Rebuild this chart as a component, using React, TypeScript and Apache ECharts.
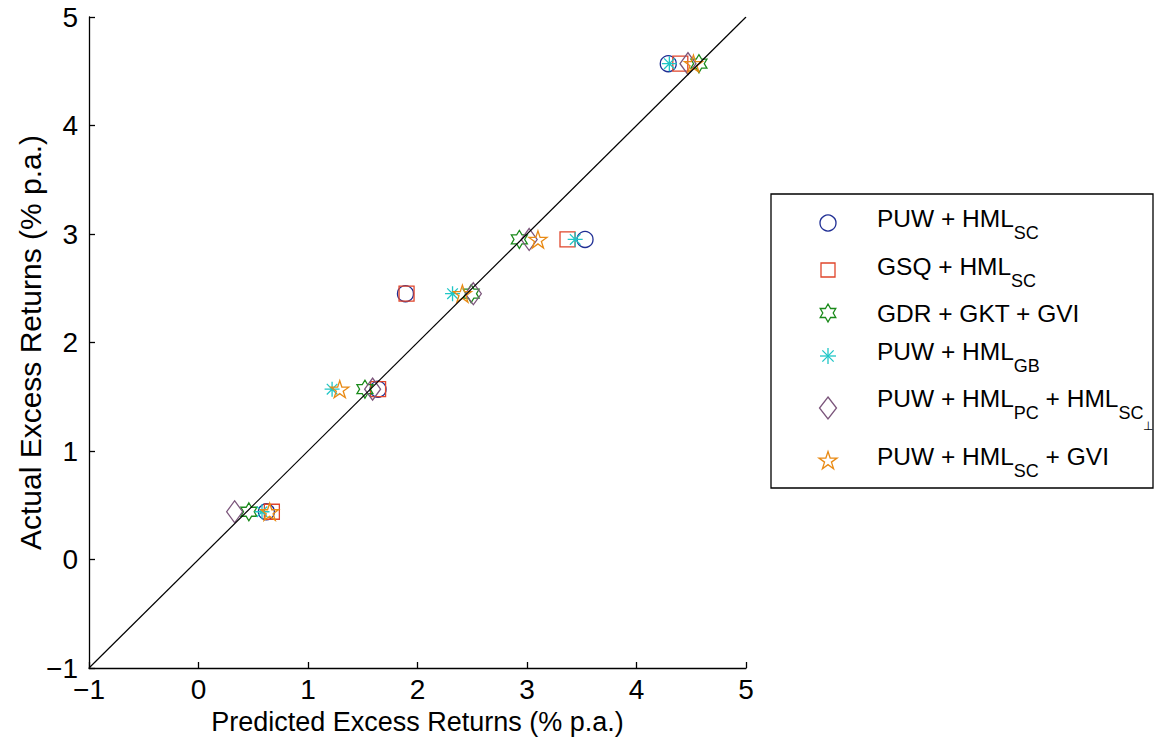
import React, { useEffect, useRef } from 'react';
import * as echarts from 'echarts';

// ---------- data ----------
const actualReturns = [0.44, 1.57, 2.45, 2.95, 4.57];
const predPUW_SC = [0.62, 1.64, 1.89, 3.53, 4.29];
const predGSQ_SC = [0.67, 1.64, 1.9, 3.37, 4.4];
const predGDR_GKT_GVI = [0.46, 1.52, 2.49, 2.93, 4.57];
const predPUW_GB = [0.58, 1.22, 2.32, 3.44, 4.3];
const predPUW_PC_SC = [0.33, 1.59, 2.51, 3.02, 4.47];
const predPUW_SC_GVI = [0.65, 1.29, 2.41, 3.1, 4.52];
const diagonalX = [-1, 5];
const seriesNames = [
  'PUW + HML_SC',
  'GSQ + HML_SC',
  'GDR + GKT + GVI',
  'PUW + HML_GB',
  'PUW + HML_PC + HML_SC⊥',
  'PUW + HML_SC + GVI',
];
// legend label pieces: [text, level] (0 normal, 1 subscript, 2 sub-subscript)
const legendLabels: [string, number][][] = [
  [['PUW + HML', 0], ['SC', 1]],
  [['GSQ + HML', 0], ['SC', 1]],
  [['GDR + GKT + GVI', 0]],
  [['PUW + HML', 0], ['GB', 1]],
  [['PUW + HML', 0], ['PC', 1], [' + HML', 0], ['SC', 1], ['⊥', 2]],
  [['PUW + HML', 0], ['SC', 1], [' + GVI', 0]],
];

const FONT = '"Liberation Sans", Arial, Helvetica, sans-serif';
const colors = ['#1f2e94', '#e0452b', '#1a8a1a', '#20c6c6', '#7b557b', '#e98a14'];

function starPts(n: number, R: number, r: number, cx = 0, cy = 0) {
  const pts: number[][] = [];
  for (let i = 0; i < 2 * n; i++) {
    const a = -Math.PI / 2 + (i * Math.PI) / n;
    const rad = i % 2 === 0 ? R : r;
    pts.push([cx + rad * Math.cos(a), cy + rad * Math.sin(a)]);
  }
  return pts;
}
function ptsPath(pts: number[][]) {
  return 'path://M' + pts.map((p) => p[0].toFixed(4) + ' ' + p[1].toFixed(4)).join(' L') + ' Z';
}
const pentaPath = ptsPath(starPts(5, 1, 0.382));
const hexaPath = ptsPath(starPts(6, 1, 0.5774));
const asteriskPath =
  'path://M0 -1 L0 1 M-1 0 L1 0 M-0.7071 -0.7071 L0.7071 0.7071 M-0.7071 0.7071 L0.7071 -0.7071';

export default function App() {
  const ref = useRef<HTMLDivElement>(null);
  useEffect(() => {
    document.body.style.margin = '0';
    const chart = echarts.init(ref.current!, null, { renderer: 'svg' });

    const preds = [predPUW_SC, predGSQ_SC, predGDR_GKT_GVI, predPUW_GB, predPUW_PC_SC, predPUW_SC_GVI];
    const symbols: any[] = ['circle', 'rect', hexaPath, asteriskPath, 'diamond', pentaPath];
    const sizes: any[] = [16, 15, [16, 18], [15, 15], [16, 22], [18, 17]];

    const scatterSeries = preds.map((p, k) => ({
      type: 'scatter',
      name: seriesNames[k],
      data: p.map((x, i) => [x, actualReturns[i]]),
      symbol: symbols[k],
      symbolSize: sizes[k],
      itemStyle: { color: 'rgba(0,0,0,0)', borderColor: colors[k], borderWidth: 1.3, opacity: 1 },
      z: 2,
    }));

    // ---------- legend (graphic) ----------
    const ctx = document.createElement('canvas').getContext('2d')!;
    const sizesByLevel = [24.5, 18, 12];
    const offsetByLevel = [0, 14, 27];
    const measure = (t: string, s: number) => {
      ctx.font = `${s}px ${FONT}`;
      return ctx.measureText(t).width;
    };
    const rowTextY = [218.5, 266.5, 313.5, 351.5, 398.5, 456.5];
    const rowMarkY = [223, 270, 313, 356, 408, 460];
    const markX = 828;
    const textX = 877;
    const g: any[] = [
      {
        type: 'rect',
        shape: { x: 771, y: 194, width: 382, height: 294 },
        style: { fill: '#fff', stroke: '#000', lineWidth: 1.3 },
        z: 10,
      },
    ];
    legendLabels.forEach((segs, r) => {
      let cx = textX;
      segs.forEach(([t, lvl]) => {
        const fs = sizesByLevel[lvl];
        g.push({
          type: 'text',
          x: cx,
          y: rowTextY[r] + offsetByLevel[lvl],
          style: { text: t, fontSize: fs, fontFamily: FONT, fill: '#000', align: 'left', verticalAlign: 'middle' },
          z: 11,
        });
        cx += measure(t, fs);
      });
      const my = rowMarkY[r];
      const st = { fill: 'none', stroke: colors[r], lineWidth: 1.3 };
      if (r === 0) g.push({ type: 'circle', shape: { cx: markX, cy: my, r: 8 }, style: st, z: 11 });
      if (r === 1) g.push({ type: 'rect', shape: { x: markX - 7, y: my - 7, width: 14, height: 14 }, style: st, z: 11 });
      if (r === 2) g.push({ type: 'polygon', shape: { points: starPts(6, 9, 9 * 0.5774, markX, my) }, style: st, z: 11 });
      if (r === 3) {
        const R = 8;
        const d = R * 0.7071;
        [
          [0, -R, 0, R],
          [-R, 0, R, 0],
          [-d, -d, d, d],
          [-d, d, d, -d],
        ].forEach((l) =>
          g.push({
            type: 'line',
            shape: { x1: markX + l[0], y1: my + l[1], x2: markX + l[2], y2: my + l[3] },
            style: { stroke: colors[r], lineWidth: 1.3 },
            z: 11,
          })
        );
      }
      if (r === 4)
        g.push({
          type: 'polygon',
          shape: { points: [[markX, my - 11], [markX + 8.5, my], [markX, my + 11], [markX - 8.5, my]] },
          style: st,
          z: 11,
        });
      if (r === 5)
        g.push({ type: 'polygon', shape: { points: starPts(5, 9.5, 9.5 * 0.382, markX, my + 1) }, style: st, z: 11 });
    });

    const axisCommon = {
      type: 'value',
      min: -1,
      max: 5,
      interval: 1,
      axisLine: { onZero: false, lineStyle: { color: '#000', width: 1.3 } },
      axisTick: { inside: true, length: 6, lineStyle: { color: '#000', width: 1.3 } },
      splitLine: { show: false },
      nameLocation: 'middle',
      nameMoveOverlap: false,
    };
    const tickLabel = (margin: number) => ({
      fontSize: 28,
      fontFamily: FONT,
      color: '#000',
      margin,
      formatter: (v: number) => String(v).replace('-', '−'),
    });

    const option: any = {
      animation: false,
      backgroundColor: '#fff',
      grid: { left: 89, top: 17, width: 657, height: 651, containLabel: false, outerBoundsMode: 'none' },
      xAxis: {
        ...axisCommon,
        name: 'Predicted Excess Returns (% p.a.)',
        nameGap: 40,
        nameTextStyle: { fontSize: 27, fontFamily: FONT, color: '#000' },
        axisLabel: tickLabel(7),
      },
      yAxis: {
        ...axisCommon,
        name: 'Actual Excess Returns (% p.a.)',
        nameGap: 44,
        nameTextStyle: { fontSize: 30, fontFamily: FONT, color: '#000' },
        axisLabel: tickLabel(11),
      },
      series: [
        ...scatterSeries,
        {
          type: 'line',
          name: 'diag',
          data: diagonalX.map((x) => [x, x]),
          symbol: 'none',
          lineStyle: { color: '#000', width: 1.2 },
          z: 3,
          silent: true,
        },
      ],
      graphic: g,
    };
    chart.setOption(option);
    return () => chart.dispose();
  }, []);
  return <div ref={ref} style={{ width: 1154, height: 744 }} />;
}
